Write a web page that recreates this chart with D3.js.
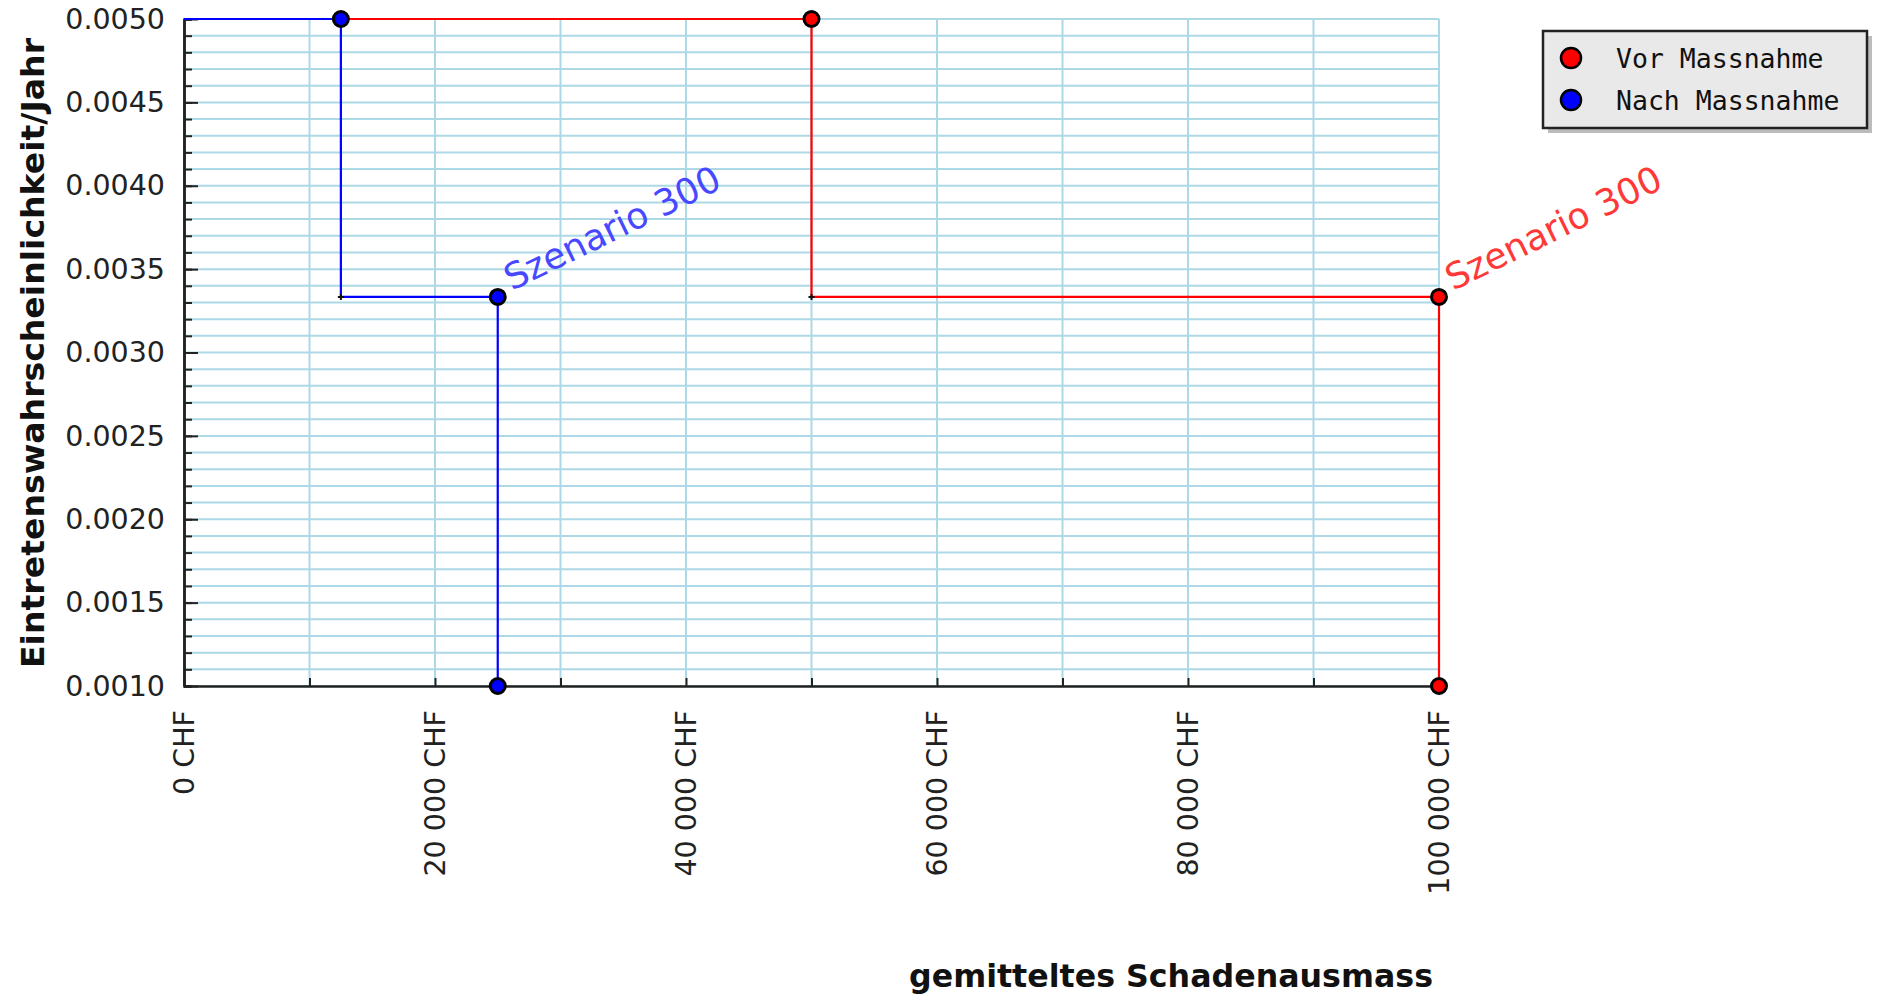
<!DOCTYPE html>
<html>
<head>
    <meta charset="utf-8">
    <script src="https://d3js.org/d3.v7.min.js"></script>
    <style>
        body { margin: 0; background: #fff; }
    </style>
</head>
<body>
    <div id="viz"></div>
    <script type="text/javascript">

    // data
    var seriesNames = ["Vor Massnahme", "Nach Massnahme"];
    var seriesColors = ["#ff0000", "#0000ff"];
    var vorDamage = [0, 50000, 100000];
    var vorProb = [0.005, 0.0033333, 0.001];
    var nachDamage = [0, 12500, 25000];
    var nachProb = [0.005, 0.0033333, 0.001];
    var annText = ["Szenario 300", "Szenario 300"];
    var annDamage = [100000, 25000];
    var annProb = [0.0033333, 0.0033333];
    var annColors = ["#ff3838", "#4848ff"];

    var xTicks = [0, 20000, 40000, 60000, 80000, 100000];
    var xMinor = [0, 10000, 20000, 30000, 40000, 50000, 60000, 70000, 80000, 90000, 100000];
    var yTicks = [0.0010, 0.0015, 0.0020, 0.0025, 0.0030, 0.0035, 0.0040, 0.0045, 0.0050];

    var W = 1877, H = 996;
    var plotL = 184, plotR = 1439, plotT = 19, plotB = 686;

    var svg = d3.select("#viz").append("svg")
        .attr("width", W)
        .attr("height", H)
        .style("font-family", "'DejaVu Sans', sans-serif");

    svg.append("rect").attr("width", W).attr("height", H).attr("fill", "#fff");

    var x = d3.scaleLinear().domain([0, 100000]).range([plotL, plotR]);
    var y = d3.scaleLinear().domain([0.001, 0.005]).range([plotB, plotT]);
    var yMinor = d3.range(10, 51).map(function(v){ return v / 10000; });

    // grid
    var grid = svg.append("g");
    grid.selectAll(".hg").data(yMinor).enter().append("line")
        .attr("x1", plotL).attr("x2", plotR)
        .attr("y1", function(d){ return y(d); }).attr("y2", function(d){ return y(d); })
        .attr("stroke", "#add8e6").attr("stroke-width", 2);
    grid.selectAll(".vg").data(xMinor).enter().append("line")
        .attr("x1", function(d){ return x(d); }).attr("x2", function(d){ return x(d); })
        .attr("y1", plotT).attr("y2", plotB)
        .attr("stroke", "#add8e6").attr("stroke-width", 2);

    // axes
    var fmtX = function(d){ return d3.format(",")(d).replace(/,/g, " ") + " CHF"; };

    var yMinorAxis = svg.append("g").attr("transform", "translate(" + plotL + ",0)")
        .call(d3.axisLeft(y).tickValues(yMinor).tickSize(-8).tickFormat(""));
    var yAxis = svg.append("g").attr("transform", "translate(" + plotL + ",0)")
        .call(d3.axisLeft(y).tickValues(yTicks).tickSizeInner(-14).tickSizeOuter(0)
            .tickFormat(d3.format(".4f")));
    var xAxis = svg.append("g").attr("transform", "translate(0," + plotB + ")")
        .call(d3.axisBottom(x).tickValues(xMinor).tickSizeInner(-8).tickSizeOuter(0).tickFormat(""));
    svg.append("g").selectAll("text").data(xTicks).enter().append("text")
        .attr("transform", function(d){ return "translate(" + x(d) + "," + (plotB + 24) + ") rotate(-90)"; })
        .attr("text-anchor", "end")
        .attr("dy", "0.36em")
        .attr("font-size", 28.5)
        .attr("fill", "#222")
        .text(fmtX);

    [yMinorAxis, yAxis, xAxis].forEach(function(a){
        a.selectAll("path").attr("stroke", "#222").attr("stroke-width", 2.5);
        a.selectAll("line").attr("stroke", "#222").attr("stroke-width", 2);
    });
    yAxis.selectAll("text").attr("font-size", 28.5).attr("fill", "#222")
        .attr("font-family", "'DejaVu Sans', sans-serif").attr("x", -19);

    // series
    var line = d3.line().curve(d3.curveStepAfter)
        .x(function(d){ return x(d[0]); })
        .y(function(d){ return y(d[1]); });

    function drawSeries(damage, prob, color) {
        var pts = damage.map(function(d, i){ return [d, prob[i]]; });
        var g = svg.append("g");
        g.append("path").datum(pts)
            .attr("d", line)
            .attr("fill", "none")
            .attr("stroke", color)
            .attr("stroke-width", 2.2);
        // corner marks at the data points between steps
        var mids = pts.slice(1, pts.length - 1);
        g.selectAll(".mk").data(mids).enter().append("path")
            .attr("d", function(d){
                var cx = x(d[0]), cy = y(d[1]);
                return "M" + (cx - 3) + "," + cy + "H" + (cx + 3) + "M" + cx + "," + (cy - 3) + "V" + (cy + 3);
            })
            .attr("stroke", "#111").attr("stroke-width", 2);
        // circles where a horizontal run ends, plus the last point
        var dots = [];
        for (var i = 1; i < pts.length; i++) dots.push([pts[i][0], pts[i - 1][1]]);
        dots.push(pts[pts.length - 1]);
        g.selectAll("circle").data(dots).enter().append("circle")
            .attr("cx", function(d){ return x(d[0]); })
            .attr("cy", function(d){ return y(d[1]); })
            .attr("r", 7.5)
            .attr("fill", color)
            .attr("stroke", "#000")
            .attr("stroke-width", 3);
    }

    drawSeries(vorDamage, vorProb, seriesColors[0]);
    drawSeries(nachDamage, nachProb, seriesColors[1]);

    // annotations
    svg.append("g").selectAll("text").data(annText).enter().append("text")
        .attr("transform", function(d, i){
            return "translate(" + (x(annDamage[i]) + 14) + "," + (y(annProb[i]) - 6) + ") rotate(-26)";
        })
        .attr("font-size", 36)
        .attr("fill", function(d, i){ return annColors[i]; })
        .text(function(d){ return d; });

    // axis titles
    svg.append("text")
        .attr("transform", "translate(44,353) rotate(-90)")
        .attr("text-anchor", "middle")
        .attr("font-size", 32)
        .attr("font-weight", "bold")
        .attr("fill", "#111")
        .attr("textLength", 630)
        .attr("lengthAdjust", "spacingAndGlyphs")
        .text("Eintretenswahrscheinlichkeit/Jahr");

    svg.append("text")
        .attr("x", 1171).attr("y", 987)
        .attr("text-anchor", "middle")
        .attr("font-size", 32)
        .attr("font-weight", "bold")
        .attr("fill", "#111")
        .attr("textLength", 524)
        .attr("lengthAdjust", "spacingAndGlyphs")
        .text("gemitteltes Schadenausmass");

    // legend
    var lg = svg.append("g").attr("transform", "translate(1543,31)");
    lg.append("rect").attr("x", 5).attr("y", 5).attr("width", 324).attr("height", 97).attr("fill", "#bcbcbc");
    lg.append("rect").attr("width", 324).attr("height", 97)
        .attr("fill", "#e9e9e9").attr("stroke", "#222").attr("stroke-width", 2.5);
    var items = lg.selectAll(".item").data(seriesNames).enter().append("g")
        .attr("transform", function(d, i){ return "translate(0," + (27 + i * 42) + ")"; });
    items.append("circle").attr("cx", 28).attr("r", 10)
        .attr("fill", function(d, i){ return seriesColors[i]; })
        .attr("stroke", "#000").attr("stroke-width", 2.5);
    items.append("text").attr("x", 73).attr("dy", "0.36em")
        .attr("font-family", "'DejaVu Sans Mono', monospace")
        .attr("font-size", 26.5)
        .attr("fill", "#111")
        .text(function(d){ return d; });

    </script>
</body>
</html>
